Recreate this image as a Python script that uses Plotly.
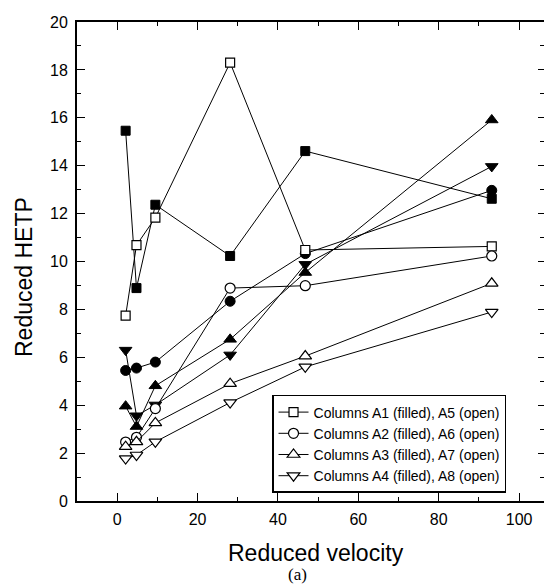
import plotly.graph_objects as go

# ---- data ----
velocity = [2.1, 4.8, 9.5, 28.1, 46.8, 93.2]

a1_filled_sq = [15.46, 8.89, 12.37, 10.23, 14.61, 12.62]
a5_open_sq = [7.74, 10.68, 11.83, 18.3, 10.48, 10.63]
a2_filled_ci = [5.45, 5.55, 5.8, 8.34, 10.33, 12.97]
a6_open_ci = [2.46, 2.66, 3.86, 8.89, 8.99, 10.23]
a3_filled_tu = [3.96, 3.11, 4.81, 6.75, 9.54, 15.91]
a7_open_tu = [2.27, 2.47, 3.26, 4.9, 6.05, 9.09]
a4_filled_td = [6.3, 3.56, 4.01, 6.1, 9.88, 13.97]
a8_open_td = [1.77, 1.92, 2.47, 4.11, 5.6, 7.89]

legend_names = [
    "Columns A1 (filled), A5 (open)",
    "Columns A2 (filled), A6 (open)",
    "Columns A3 (filled), A7 (open)",
    "Columns A4 (filled), A8 (open)",
]

x_ticks = [0, 20, 40, 60, 80, 100]
y_ticks = [0, 2, 4, 6, 8, 10, 12, 14, 16, 18, 20]

x_title = "Reduced velocity"
y_title = "Reduced HETP"
panel_label = "(a)"

FONT = "Arial, 'Liberation Sans', sans-serif"

fig = go.Figure()

series = [
    (a1_filled_sq, a5_open_sq, "square", 9, legend_names[0]),
    (a2_filled_ci, a6_open_ci, "circle", 10, legend_names[1]),
    (a3_filled_tu, a7_open_tu, "triangle-up", 11, legend_names[2]),
    (a4_filled_td, a8_open_td, "triangle-down", 11, legend_names[3]),
]

for filled, opened, sym, size, name in series:
    fig.add_trace(go.Scatter(
        x=velocity, y=filled, mode="lines+markers", showlegend=False,
        line=dict(color="black", width=1),
        marker=dict(symbol=sym, size=size, color="black",
                    line=dict(color="black", width=1)),
    ))
for filled, opened, sym, size, name in series:
    fig.add_trace(go.Scatter(
        x=velocity, y=opened, mode="lines+markers", name=name, showlegend=True,
        line=dict(color="black", width=1),
        marker=dict(symbol=sym, size=size, color="white",
                    line=dict(color="black", width=1.2)),
    ))

# page body has an 8px default margin, so the figure is offset by 8px
fig.update_layout(
    template="none",
    width=536, height=578,
    margin=dict(l=69, r=0, t=14, b=85, autoexpand=False),
    paper_bgcolor="white", plot_bgcolor="white",
    font=dict(family=FONT, color="black", size=16),
    xaxis=dict(
        range=[-10, 106.2], tickvals=x_ticks, ticks="inside", ticklen=8,
        tickwidth=1.3, tickcolor="black", showline=True, linecolor="black",
        linewidth=2, mirror="ticks", showgrid=False, zeroline=False,
        tickfont=dict(size=16), ticklabelstandoff=3, automargin=False,
        minor=dict(dtick=10, ticks="inside", ticklen=4, tickcolor="black", tickwidth=1.3),
    ),
    yaxis=dict(
        range=[0, 20], tickvals=y_ticks, ticks="inside", ticklen=8,
        tickwidth=1.3, tickcolor="black", showline=True, linecolor="black",
        linewidth=2, mirror=False, showgrid=False, zeroline=False,
        tickfont=dict(size=16), ticklabelstandoff=4, automargin=False,
        minor=dict(dtick=1, ticks="inside", ticklen=4, tickcolor="black", tickwidth=1.3),
    ),
    yaxis2=dict(
        range=[0, 20], overlaying="y", side="right", tickvals=y_ticks,
        ticks="inside", ticklen=6, tickwidth=1.3, tickcolor="black",
        showticklabels=False, showline=False, showgrid=False, zeroline=False,
        automargin=False,
        minor=dict(dtick=1, ticks="inside", ticklen=4, tickcolor="black", tickwidth=1.3),
    ),
    legend=dict(
        x=0.4176, y=0.2213, xanchor="left", yanchor="top",
        bordercolor="black", borderwidth=1.5, bgcolor="white",
        font=dict(size=14), tracegroupgap=0,
    ),
    annotations=[
        dict(text=x_title, xref="paper", yref="paper", x=0.5128, y=-0.1086,
             xanchor="center", yanchor="middle", showarrow=False,
             font=dict(size=23)),
        dict(text=y_title, xref="paper", yref="paper", x=-0.1135, y=0.4676,
             xanchor="center", yanchor="middle", showarrow=False, textangle=-90,
             font=dict(size=23)),
        dict(text=panel_label, xref="paper", yref="paper", x=0.472, y=-0.1535,
             xanchor="center", yanchor="middle", showarrow=False,
             font=dict(family="'Liberation Serif', 'Times New Roman', serif", size=17)),
    ],
)

# invisible trace to anchor right-side ticks
fig.add_trace(go.Scatter(x=[None], y=[None], yaxis="y2", showlegend=False, hoverinfo="skip"))

fig.write_html("out.html")
